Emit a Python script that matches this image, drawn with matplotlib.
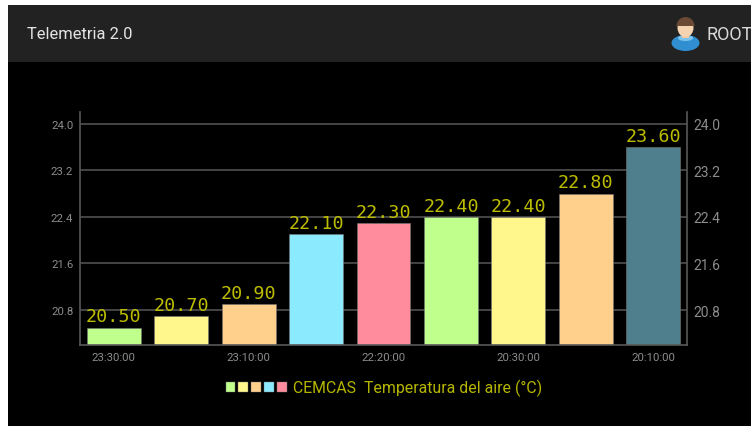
import matplotlib
matplotlib.use("Agg")
import matplotlib.pyplot as plt
from matplotlib.patches import Rectangle, Ellipse, Wedge

times = ["23:30:00", "", "23:10:00", "", "22:20:00", "", "20:30:00", "", "20:10:00"]
values = [20.5, 20.7, 20.9, 22.1, 22.3, 22.4, 22.4, 22.8, 23.6]
labels = ["20.50", "20.70", "20.90", "22.10", "22.30", "22.40", "22.40", "22.80", "23.60"]
palette = ["#C0FF8C", "#FFF78C", "#FFD08C", "#8CEAFF", "#FF8C9D"]
bar_colors = ["#C0FF8C", "#FFF78C", "#FFD08C", "#8CEAFF", "#FF8C9D",
              "#C0FF8C", "#FFF78C", "#FFD08C", "#4F7F8C"]
y_ticks = [20.8, 21.6, 22.4, 23.2, 24.0]
title = "Telemetria 2.0"
user = "ROOT"
legend_text = "CEMCAS  Temperatura del aire (°C)"

W, H = 751, 427
plt.rcParams["font.family"] = ["Roboto", "DejaVu Sans"]
fig = plt.figure(figsize=(W / 100, H / 100), dpi=100, facecolor="white")

# page chrome, in pixel coordinates
bg = fig.add_axes([0, 0, 1, 1], zorder=0)
bg.set_xlim(0, W)
bg.set_ylim(H - 1, -1)
bg.axis("off")
bg.add_patch(Rectangle((8, 5), W, H, fc="#000000", ec="none"))
bg.add_patch(Rectangle((8, 5), W, 57, fc="#222222", ec="none"))
bg.text(27, 33.5, title, color="#E4E4E4", fontsize=11.9, va="center", ha="left")
bg.text(706, 33.5, user, color="#D8D8D8", fontsize=13, va="center", ha="left", clip_on=True)

# user icon
bg.add_patch(Ellipse((685.5, 43), 28, 16, fc="#2F8FD0", ec="none"))
bg.add_patch(Ellipse((685.5, 38), 15, 6, fc="#7CC4EE", ec="none"))
bg.add_patch(Rectangle((682, 32), 7, 6, fc="#F0C8A0", ec="none"))
bg.add_patch(Ellipse((685.5, 28), 16, 18, fc="#F6D3B0", ec="none"))
bg.add_patch(Wedge((685.5, 26), 9, 180, 360, fc="#6B4A35", ec="none"))

# chart
ax = fig.add_axes([80 / W, 1 - 346 / H, 607 / W, 233 / H], zorder=1)
ax.patch.set_alpha(0)
xs = list(range(len(values)))
ax.set_axisbelow(True)
ax.yaxis.grid(True, color="#4A4A4A", linewidth=1.3)
ax.xaxis.grid(False)
bars = ax.bar(xs, values, width=0.8, bottom=0, color=bar_colors, edgecolor="#777777", linewidth=0.4)
ax.set_xlim(-0.5, len(values) - 0.5)
ax.set_ylim(20.2, 24.2)
for x, v, s in zip(xs, values, labels):
    ax.annotate(s, (x, v), xytext=(0, 1.5), textcoords="offset points", ha="center", va="bottom",
                color="#BDBD00", fontsize=13.2, family="DejaVu Sans Mono")

ax.set_xticks(xs, times)
ax.set_yticks(y_ticks, [f"{t:.1f}" for t in y_ticks])
ax.tick_params(axis="x", length=0, pad=5.3, labelsize=8.2, labelcolor="#8C8C8C")
ax.tick_params(axis="y", left=False, right=False, pad=1.4, labelsize=8.2, labelcolor="#8C8C8C")
for side in ["left", "right", "bottom"]:
    ax.spines[side].set_color("#585858")
    ax.spines[side].set_linewidth(1.2)
ax.spines["top"].set_visible(False)

ax2 = ax.twinx()
ax2.set_ylim(ax.get_ylim())
ax2.set_yticks(y_ticks, [f"{t:.1f}" for t in y_ticks])
ax2.tick_params(axis="y", left=False, right=False, pad=1.4, labelsize=10, labelcolor="#8C8C8C")
for sp in ax2.spines.values():
    sp.set_visible(False)

# legend
for i, c in enumerate(palette):
    bg.add_patch(Rectangle((225.5 + 12.9 * i, 382), 9.5, 9.5, fc=c, ec="#777777", lw=0.3))
bg.text(293, 387, legend_text, color="#B5B500", fontsize=11.4, va="center", ha="left")

fig.savefig("out.png", dpi=100, facecolor=fig.get_facecolor())
